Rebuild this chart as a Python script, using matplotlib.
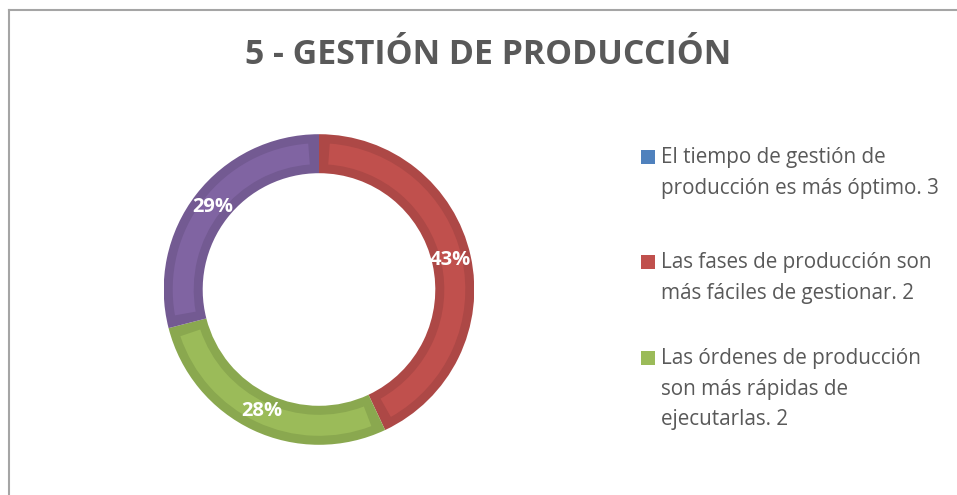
import numpy as np
import matplotlib.pyplot as plt
from matplotlib.patches import Wedge, Rectangle
from matplotlib.lines import Line2D

# datos del grafico (porcentajes)
categorias = ["El tiempo de gestión de\nproducción es más óptimo. 3",
              "Las fases de producción son\nmás fáciles de gestionar. 2",
              "Las órdenes de producción\nson más rápidas de\nejecutarlas. 2",
              "Otro"]
valores = [0, 43, 28, 29]
etiquetas = ["", "43%", "28%", "29%"]

col_claro = ["#4F81BD", "#C0504D", "#9BBB59", "#8064A2"]
col_oscuro = ["#45719F", "#AD4846", "#8AA84F", "#735A92"]

W, H = 957, 495
fig = plt.figure(figsize=(W / 100, H / 100), dpi=100)

# marco gris (arriba e izquierda)
fig.add_artist(Line2D([8.5 / W, 1], [1 - 9.5 / H, 1 - 9.5 / H], color="#A5A5A5", lw=1.5))
fig.add_artist(Line2D([8.5 / W, 8.5 / W], [0, 1 - 9.5 / H], color="#A5A5A5", lw=1.5))

fig.text(488 / W, 1 - 55 / H, "5 - GESTIÓN DE PRODUCCIÓN", ha="center", va="center",
         fontsize=24.4, fontweight="bold", color="#595959", family="Open Sans")

# donut
cx, cy, R = 319, 289.5, 155.3
ax = fig.add_axes([(cx - R) / W, (H - cy - R) / H, 2 * R / W, 2 * R / H])
ax.set_xlim(-1, 1)
ax.set_ylim(-1, 1)
ax.set_aspect("equal")
ax.axis("off")

r_in = 116.3 / R
ancho = 1 - r_in
borde = 9 / R
total = sum(valores)
ang = 90.0
for v, cc, co, lab in zip(valores, col_claro, col_oscuro, etiquetas):
    if v == 0:
        continue
    span = 360.0 * v / total
    a1, a2 = ang - span, ang
    ax.add_patch(Wedge((0, 0), 1, a1, a2, width=ancho, facecolor=co, edgecolor="none"))
    da = (10 / R) / ((1 + r_in) / 2) * 57.2958
    ax.add_patch(Wedge((0, 0), 1 - borde, a1 + da, a2 - da, width=ancho - 2 * borde,
                       facecolor=cc, edgecolor="none"))
    mid = np.deg2rad((a1 + a2) / 2)
    rl = 134 / R
    ax.text(rl * np.cos(mid), rl * np.sin(mid), lab, ha="center", va="center",
            color="white", fontsize=14.5, fontweight="bold", family="Open Sans")
    ang = a1

# leyenda manual
ys = [157, 262, 358]
for y, nombre, c in zip(ys, categorias[:3], col_claro[:3]):
    fig.add_artist(Rectangle((641 / W, 1 - (y + 7) / H), 14 / W, 14 / H,
                             facecolor=c, edgecolor="none"))
    fig.text(661 / W, 1 - (y - 10) / H, nombre, ha="left", va="top", fontsize=14.9,
             color="#595959", family="Open Sans", linespacing=1.6)

fig.savefig("out.png", dpi=100)
